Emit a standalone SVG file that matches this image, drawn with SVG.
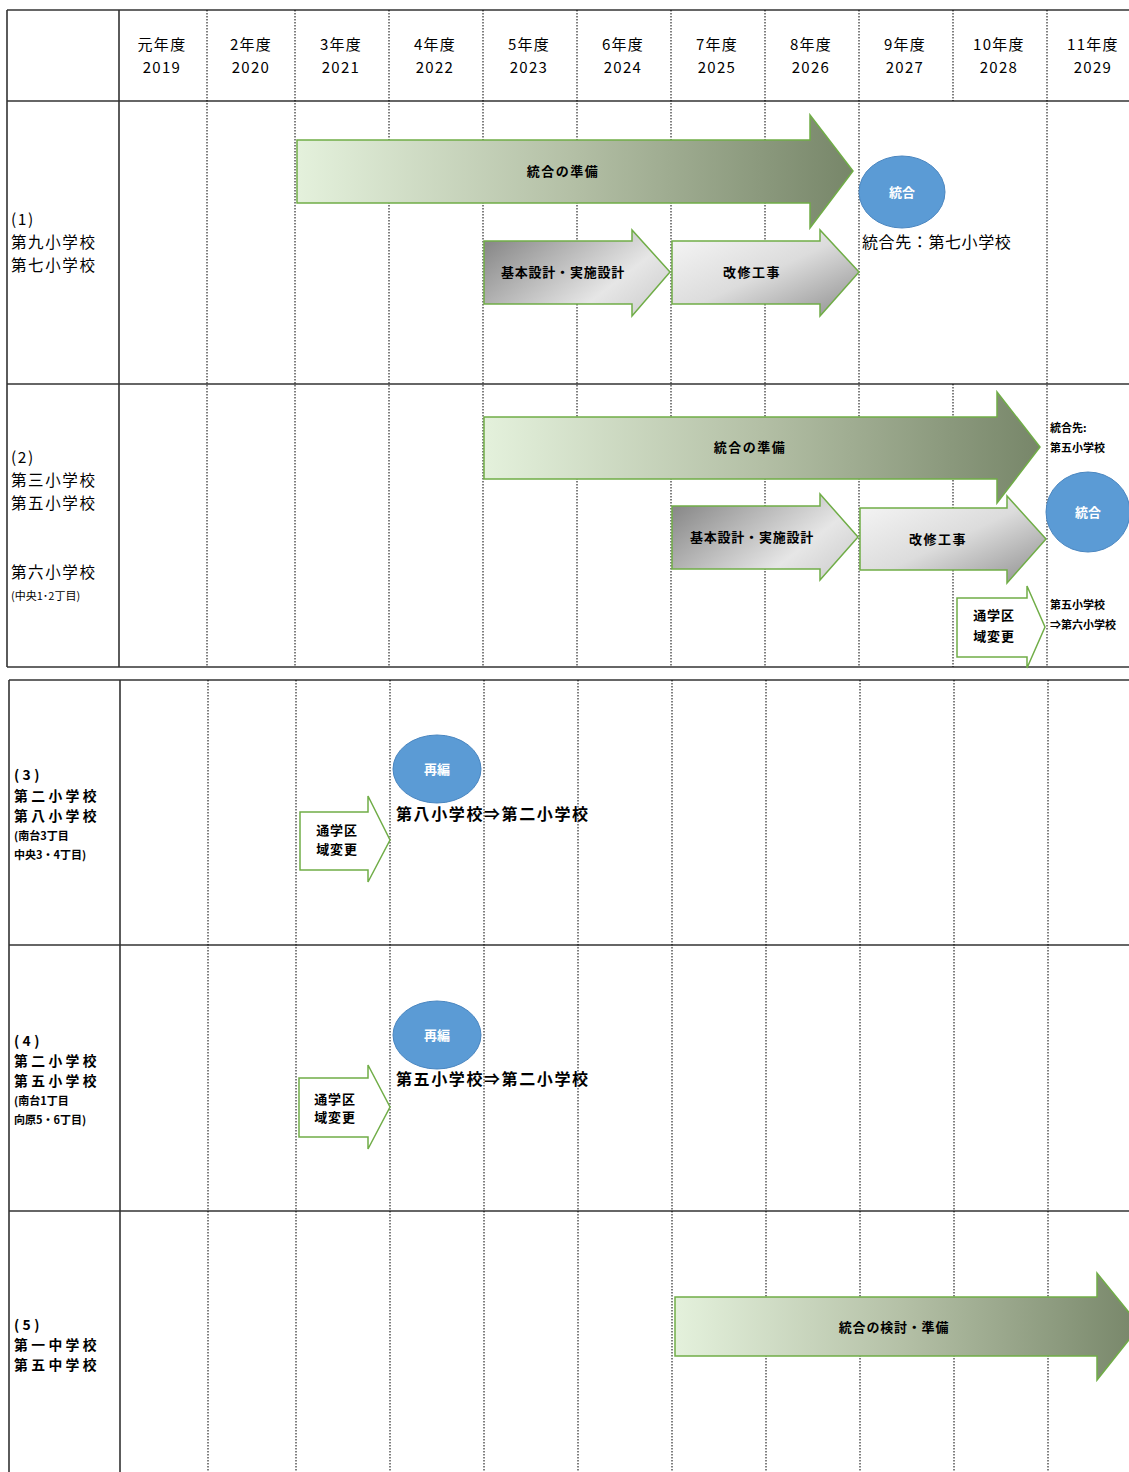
<svg xmlns="http://www.w3.org/2000/svg" width="1129" height="1472" viewBox="0 0 1129 1472">
<style>
text{font-family:"Noto Sans CJK JP","Noto Sans CJK SC",sans-serif;fill:#000}
.hd{font-size:15px;text-anchor:middle;letter-spacing:1.3px}
.lb{font-size:15.5px;letter-spacing:1.6px}
.lbb{font-size:13.8px;font-weight:bold;letter-spacing:3.4px}
.nt{font-size:16px;letter-spacing:0.6px}
.ntb{font-size:16px;font-weight:bold;letter-spacing:1.6px}
.sm{font-size:11px}
.smb{font-size:11px;font-weight:bold}
.at{font-size:13px;font-weight:bold;text-anchor:middle;letter-spacing:1.5px}
.at2{font-size:13px;font-weight:bold;text-anchor:middle;letter-spacing:0.8px}
.ct{font-size:13px;font-weight:bold;text-anchor:middle;fill:#fff}
.solid{stroke:#333;stroke-width:1.6;fill:none}
.dot{stroke:#000;stroke-width:1;stroke-dasharray:1.5,1.5;fill:none}
.arrG{fill:url(#gGreen);stroke:#70ad47;stroke-width:1.5}
.arrL{fill:url(#gGrayL);stroke:#70ad47;stroke-width:1.5}
.arrR{fill:url(#gGrayR);stroke:#70ad47;stroke-width:1.5}
.arrW{fill:#fff;stroke:#70ad47;stroke-width:1.5}
.circ{fill:#5b9bd5;stroke:#4a86c0;stroke-width:1}
</style>
<defs>
<linearGradient id="gGreen" x1="0" y1="0" x2="1" y2="0">
<stop offset="0" stop-color="#e4f1dc"/>
<stop offset="0.5" stop-color="#b3bfa5"/>
<stop offset="1" stop-color="#778669"/>
</linearGradient>
<linearGradient id="gGrayL" x1="0" y1="0.2" x2="1" y2="0.8">
<stop offset="0" stop-color="#8a8a8a"/>
<stop offset="0.7" stop-color="#e6e6e6"/>
<stop offset="1" stop-color="#d0d0d0"/>
</linearGradient>
<linearGradient id="gGrayR" x1="0" y1="0" x2="1" y2="1">
<stop offset="0" stop-color="#f7f7f7"/>
<stop offset="0.5" stop-color="#dcdcdc"/>
<stop offset="1" stop-color="#8e8e8e"/>
</linearGradient>
</defs>
<rect width="1129" height="1472" fill="#fff"/>

<g id="grid">
<line class="solid" x1="7" y1="10" x2="1129" y2="10"/>
<line class="solid" x1="7" y1="101" x2="1129" y2="101"/>
<line class="solid" x1="7" y1="384" x2="1129" y2="384"/>
<line class="solid" x1="7" y1="667" x2="1129" y2="667"/>
<line class="solid" x1="7" y1="10" x2="7" y2="667"/>
<line class="solid" x1="119" y1="10" x2="119" y2="667"/>
<line class="dot" x1="207" y1="10" x2="207" y2="667"/>
<line class="dot" x1="295" y1="10" x2="295" y2="667"/>
<line class="dot" x1="389" y1="10" x2="389" y2="667"/>
<line class="dot" x1="483" y1="10" x2="483" y2="667"/>
<line class="dot" x1="577" y1="10" x2="577" y2="667"/>
<line class="dot" x1="671" y1="10" x2="671" y2="667"/>
<line class="dot" x1="765" y1="10" x2="765" y2="667"/>
<line class="dot" x1="859" y1="10" x2="859" y2="667"/>
<line class="dot" x1="953" y1="10" x2="953" y2="101"/>
<line class="dot" x1="953" y1="384" x2="953" y2="667"/>
<line class="dot" x1="1047" y1="10" x2="1047" y2="667"/>
<line class="solid" x1="9" y1="680" x2="1129" y2="680"/>
<line class="solid" x1="9" y1="945" x2="1129" y2="945"/>
<line class="solid" x1="9" y1="1211" x2="1129" y2="1211"/>
<line class="solid" x1="9" y1="680" x2="9" y2="1472"/>
<line class="solid" x1="120" y1="680" x2="120" y2="1472"/>
<line class="dot" x1="208" y1="680" x2="208" y2="1472"/>
<line class="dot" x1="296" y1="680" x2="296" y2="1472"/>
<line class="dot" x1="390" y1="680" x2="390" y2="1472"/>
<line class="dot" x1="484" y1="680" x2="484" y2="1472"/>
<line class="dot" x1="578" y1="680" x2="578" y2="1472"/>
<line class="dot" x1="672" y1="680" x2="672" y2="1472"/>
<line class="dot" x1="766" y1="680" x2="766" y2="1472"/>
<line class="dot" x1="860" y1="680" x2="860" y2="1472"/>
<line class="dot" x1="954" y1="680" x2="954" y2="1472"/>
<line class="dot" x1="1048" y1="680" x2="1048" y2="1472"/>
</g>

<g id="header">
<text class="hd" x="162" y="50">元年度</text><text class="hd" x="162" y="73">2019</text>
<text class="hd" x="251" y="50">2年度</text><text class="hd" x="251" y="73">2020</text>
<text class="hd" x="341" y="50">3年度</text><text class="hd" x="341" y="73">2021</text>
<text class="hd" x="435" y="50">4年度</text><text class="hd" x="435" y="73">2022</text>
<text class="hd" x="529" y="50">5年度</text><text class="hd" x="529" y="73">2023</text>
<text class="hd" x="623" y="50">6年度</text><text class="hd" x="623" y="73">2024</text>
<text class="hd" x="717" y="50">7年度</text><text class="hd" x="717" y="73">2025</text>
<text class="hd" x="811" y="50">8年度</text><text class="hd" x="811" y="73">2026</text>
<text class="hd" x="905" y="50">9年度</text><text class="hd" x="905" y="73">2027</text>
<text class="hd" x="999" y="50">10年度</text><text class="hd" x="999" y="73">2028</text>
<text class="hd" x="1093" y="50">11年度</text><text class="hd" x="1093" y="73">2029</text>
</g>

<g id="labels">
<text class="lb" x="11" y="225">(1)</text>
<text class="lb" x="11" y="248">第九小学校</text>
<text class="lb" x="11" y="271">第七小学校</text>
<text class="lb" x="11" y="463">(2)</text>
<text class="lb" x="11" y="486">第三小学校</text>
<text class="lb" x="11" y="509">第五小学校</text>
<text class="lb" x="11" y="578">第六小学校</text>
<text class="sm" x="11" y="600">(中央1･2丁目)</text>
<text class="lbb" x="14" y="780">(3)</text>
<text class="lbb" x="14" y="801">第二小学校</text>
<text class="lbb" x="14" y="821">第八小学校</text>
<text class="smb" x="14" y="840">(南台3丁目</text>
<text class="smb" x="14" y="859">中央3・4丁目)</text>
<text class="lbb" x="14" y="1046">(4)</text>
<text class="lbb" x="14" y="1066">第二小学校</text>
<text class="lbb" x="14" y="1086">第五小学校</text>
<text class="smb" x="14" y="1105">(南台1丁目</text>
<text class="smb" x="14" y="1124">向原5・6丁目)</text>
<text class="lbb" x="14" y="1330">(5)</text>
<text class="lbb" x="14" y="1350">第一中学校</text>
<text class="lbb" x="14" y="1370">第五中学校</text>
</g>

<g id="connectors">
<g id="r1-prep"><path class="arrG" d="M297,140 L810,140 L810,115 L853,171 L810,228 L810,203 L297,203 Z"/><text class="at" x="563" y="176">統合の準備</text></g>
<g id="r1-design"><path class="arrL" d="M484,241 L632,241 L632,230 L670,272 L632,316 L632,304 L484,304 Z"/><text class="at2" x="563" y="277">基本設計・実施設計</text></g>
<g id="r1-work"><path class="arrR" d="M672,241 L820,241 L820,230 L859,272 L820,316 L820,304 L672,304 Z"/><text class="at" x="752" y="277">改修工事</text></g>
<g id="r2-prep"><path class="arrG" d="M484,417 L997,417 L997,392 L1040,447 L997,503 L997,479 L484,479 Z"/><text class="at" x="750" y="452">統合の準備</text></g>
<g id="r2-design"><path class="arrL" d="M672,506 L820,506 L820,494 L858,537 L820,580 L820,569 L672,569 Z"/><text class="at2" x="752" y="542">基本設計・実施設計</text></g>
<g id="r2-work"><path class="arrR" d="M860,508 L1007,508 L1007,496 L1046,539 L1007,583 L1007,570 L860,570 Z"/><text class="at" x="938" y="544">改修工事</text></g>
<g id="r2-area"><path class="arrW" d="M957,598 L1027,598 L1027,586 L1045,627 L1027,668 L1027,657 L957,657 Z"/><text class="at2" x="994" y="620">通学区</text><text class="at2" x="994" y="641">域変更</text></g>
<g id="r3-area"><path class="arrW" d="M300,812 L368,812 L368,796 L390,840 L368,882 L368,870 L300,870 Z"/><text class="at2" x="337" y="835">通学区</text><text class="at2" x="337" y="854">域変更</text></g>
<g id="r4-area"><path class="arrW" d="M299,1078 L368,1078 L368,1065 L390,1107 L368,1149 L368,1137 L299,1137 Z"/><text class="at2" x="335" y="1104">通学区</text><text class="at2" x="335" y="1122">域変更</text></g>
<g id="r5-prep"><path class="arrG" d="M675,1297 L1097,1297 L1097,1273 L1140,1326 L1097,1380 L1097,1356 L675,1356 Z"/><text class="at2" x="894" y="1332">統合の検討・準備</text></g>
</g>

<g id="n1-merge"><ellipse class="circ" cx="902" cy="192" rx="43" ry="36"/><text class="ct" x="902" y="197">統合</text></g>
<g id="n1-note"><text class="nt" x="862" y="248">統合先：第七小学校</text></g>
<g id="n2-merge"><ellipse class="circ" cx="1088" cy="512" rx="42" ry="40"/><text class="ct" x="1088" y="517">統合</text></g>
<g id="n2-note"><text class="smb" x="1050" y="432">統合先:</text><text class="smb" x="1050" y="452">第五小学校</text></g>
<g id="n2-note2"><text class="smb" x="1050" y="609">第五小学校</text><text class="smb" x="1050" y="629">⇒第六小学校</text></g>
<g id="n3-reorg"><ellipse class="circ" cx="437" cy="769" rx="44" ry="34"/><text class="ct" x="437" y="774">再編</text><text class="ntb" x="396" y="820">第八小学校⇒第二小学校</text></g>
<g id="n4-reorg"><ellipse class="circ" cx="437" cy="1035" rx="44" ry="34"/><text class="ct" x="437" y="1040">再編</text><text class="ntb" x="396" y="1085">第五小学校⇒第二小学校</text></g>
</svg>
